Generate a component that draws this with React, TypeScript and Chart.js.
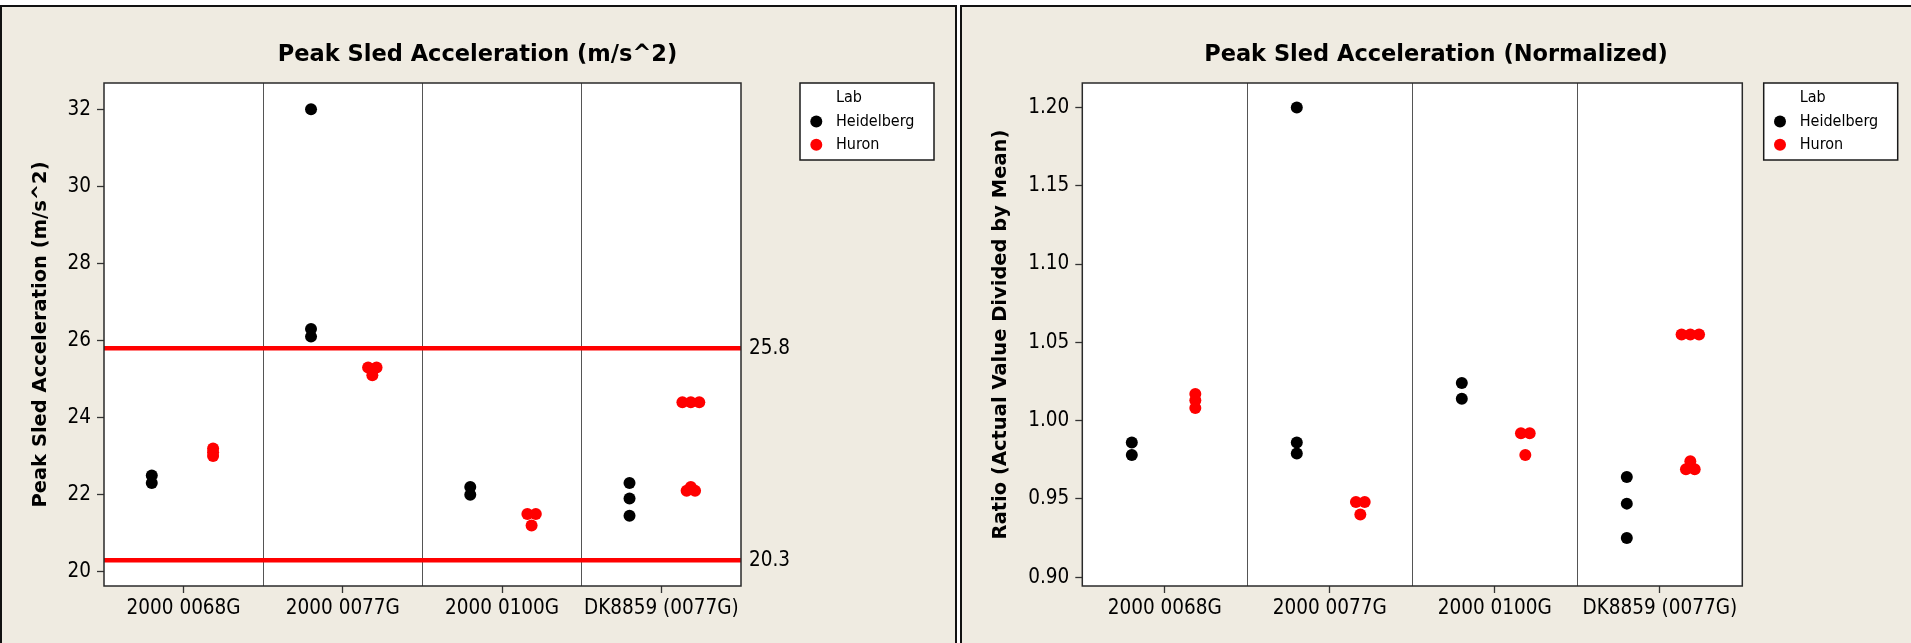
import { useEffect, useRef } from 'react';
import { Chart, registerables } from 'chart.js';

Chart.register(...registerables);

// ---------- data ----------
const categories = ['2000 0068G', '2000 0077G', '2000 0100G', 'DK8859 (0077G)'];
const labs = ['Heidelberg', 'Huron'];
const labColors = ['#000000', '#FF0000'];

// Peak sled acceleration (m/s^2), one list per category
const heidelbergAccel = [[22.5, 22.3], [32.0, 26.3, 26.1], [22.2, 22.0], [22.3, 21.9, 21.45]];
const huronAccel = [[23.2, 23.1, 23.0], [25.3, 25.3, 25.1], [21.5, 21.5, 21.2], [24.4, 24.4, 24.4, 22.2, 22.1, 22.1]];
const accelLimits = [25.8, 20.3];
const accelTicks = [20, 22, 24, 26, 28, 30, 32];

// Normalized (actual value divided by mean)
const heidelbergRatio = [[0.986, 0.978], [1.2, 0.986, 0.979], [1.024, 1.014], [0.964, 0.947, 0.925]];
const huronRatio = [[1.017, 1.013, 1.008], [0.948, 0.948, 0.94], [0.992, 0.992, 0.978], [1.055, 1.055, 1.055, 0.974, 0.969, 0.969]];
const ratioTicks = [0.9, 0.95, 1.0, 1.05, 1.1, 1.15, 1.2];

// ---------- styling ----------
const FONT = '"DejaVu Sans Condensed", "DejaVu Sans", sans-serif';
const BOLD = '"DejaVu Sans", sans-serif';
const BEIGE = '#EFEBE1';
const LAB_OFFSET = [-0.2, 0.185];
const DODGE = 0.053;

const isInt = (v: number) => Math.abs(v - Math.round(v)) < 1e-6;

function toPoints(groups: number[][], lab: number) {
  const pts: { x: number; y: number }[] = [];
  groups.forEach((vals, ci) => {
    vals.forEach((v, i) => {
      const same = vals.map((_, j) => j).filter((j) => vals[j] === v);
      const k = same.indexOf(i);
      const off = (k - (same.length - 1) / 2) * DODGE;
      pts.push({ x: ci + LAB_OFFSET[lab] + off, y: v });
    });
  });
  return pts;
}

const framePlugin = {
  id: 'frame',
  beforeDraw(chart: any) {
    const { ctx, chartArea: a } = chart;
    ctx.save();
    ctx.fillStyle = '#ffffff';
    ctx.fillRect(a.left, a.top, a.right - a.left, a.bottom - a.top);
    ctx.restore();
  },
  afterDraw(chart: any) {
    const { ctx, chartArea: a } = chart;
    ctx.save();
    ctx.strokeStyle = '#2a2a2a';
    ctx.lineWidth = 1.5;
    ctx.strokeRect(a.left, a.top, a.right - a.left, a.bottom - a.top);
    ctx.restore();
  },
};

const labLegendPlugin = {
  id: 'labLegend',
  afterDraw(chart: any, _args: any, opts: any) {
    const { ctx, chartArea: a } = chart;
    const x = a.right + opts.dx;
    const y = a.top;
    const w = 134;
    const h = 77;
    ctx.save();
    ctx.fillStyle = '#ffffff';
    ctx.fillRect(x, y, w, h);
    ctx.strokeStyle = '#1a1a1a';
    ctx.lineWidth = 1.5;
    ctx.strokeRect(x, y, w, h);
    ctx.font = `16px ${FONT}`;
    ctx.textBaseline = 'middle';
    ctx.textAlign = 'left';
    ctx.fillStyle = '#000';
    ctx.fillText('Lab', x + 36, y + 15);
    labs.forEach((name, i) => {
      const cy = y + 38.4 + i * 23.3;
      ctx.beginPath();
      ctx.arc(x + 16.3, cy, 6, 0, Math.PI * 2);
      ctx.fillStyle = labColors[i];
      ctx.fill();
      ctx.fillStyle = '#000';
      ctx.fillText(name, x + 36, cy);
    });
    ctx.restore();
  },
};

type Cfg = {
  heid: number[][];
  huron: number[][];
  limits: number[] | null;
  yMin: number;
  yMax: number;
  yTicks: number[];
  decimals: number;
  yTitle: string;
  title: string;
  yAxisWidth: number;
  yTitleOffset: number;
  rightWidth: number;
  legendDx: number;
};

function makeConfig(c: Cfg): any {
  const xTickValues: number[] = [];
  for (let i = 0; i <= categories.length; i++) {
    xTickValues.push(i - 0.5);
    if (i < categories.length) xTickValues.push(i);
  }
  const datasets: any[] = [
    {
      label: labs[0],
      data: toPoints(c.heid, 0),
      backgroundColor: labColors[0],
      borderWidth: 0,
      pointRadius: 6,
      pointHoverRadius: 6,
      yAxisID: 'y',
      xAxisID: 'x',
    },
    {
      label: labs[1],
      data: toPoints(c.huron, 1),
      backgroundColor: labColors[1],
      borderWidth: 0,
      pointRadius: 6,
      pointHoverRadius: 6,
      yAxisID: 'y',
      xAxisID: 'x',
    },
  ];
  (c.limits || []).forEach((v) => {
    datasets.push({
      label: 'limit ' + v,
      data: [
        { x: -0.5, y: v },
        { x: categories.length - 0.5, y: v },
      ],
      showLine: true,
      borderColor: '#FF0000',
      backgroundColor: '#FF0000',
      borderWidth: 4.5,
      pointRadius: 0,
      pointHoverRadius: 0,
      yAxisID: 'y',
      xAxisID: 'x',
    });
  });

  const tickFont = { family: FONT, size: 20.5 };
  const limits = c.limits || [];
  const scales: any = {
    x: {
      type: 'linear',
      min: -0.5,
      max: categories.length - 0.5,
      afterBuildTicks: (s: any) => {
        s.ticks = xTickValues.map((v) => ({ value: v }));
      },
      afterFit: (s: any) => {
        s.height = 57;
      },
      grid: {
        drawOnChartArea: true,
        drawTicks: true,
        tickLength: 7,
        lineWidth: 1,
        tickWidth: 1.3,
        color: (ctx: any) => {
          const v = ctx.tick ? ctx.tick.value : 0;
          return !isInt(v) && v > -0.5 && v < categories.length - 0.5 ? '#555555' : 'rgba(0,0,0,0)';
        },
        tickColor: (ctx: any) => {
          const v = ctx.tick ? ctx.tick.value : 0.5;
          return isInt(v) ? '#333333' : 'rgba(0,0,0,0)';
        },
      },
      border: { display: false },
      ticks: {
        autoSkip: false,
        maxRotation: 0,
        minRotation: 0,
        padding: 3,
        color: '#000',
        font: tickFont,
        callback: (v: any) => (isInt(Number(v)) ? categories[Math.round(Number(v))] : ''),
      },
    },
    y: {
      type: 'linear',
      position: 'left',
      min: c.yMin,
      max: c.yMax,
      afterBuildTicks: (s: any) => {
        s.ticks = c.yTicks.map((v) => ({ value: v }));
      },
      afterFit: (s: any) => {
        s.width = c.yAxisWidth;
      },
      grid: { drawOnChartArea: false, drawTicks: true, tickLength: 7, tickColor: '#333333', tickWidth: 1.3 },
      border: { display: false },
      ticks: {
        padding: 6,
        color: '#000',
        font: tickFont,
        callback: (v: any) => Number(v).toFixed(c.decimals),
      },
      title: {
        display: true,
        text: c.yTitle,
        color: '#000',
        font: { family: BOLD, size: 19.5, weight: 'bold', lineHeight: 1.2 },
        padding: { top: c.yTitleOffset, bottom: 0 },
      },
    },
    yRight: {
      type: 'linear',
      position: 'right',
      min: c.yMin,
      max: c.yMax,
      afterBuildTicks: (s: any) => {
        s.ticks = limits.map((v) => ({ value: v }));
      },
      afterFit: (s: any) => {
        s.width = c.rightWidth;
      },
      grid: { display: false, drawTicks: false, drawOnChartArea: false },
      border: { display: false },
      ticks: {
        display: limits.length > 0,
        padding: 8,
        color: '#000',
        font: tickFont,
        callback: (v: any) => Number(v).toFixed(1),
      },
    },
  };

  return {
    type: 'scatter',
    data: { datasets },
    options: {
      responsive: false,
      maintainAspectRatio: false,
      animation: false,
      devicePixelRatio: 1,
      events: [],
      layout: { padding: { left: 0, right: 0, top: 0, bottom: 0 } },
      scales,
      plugins: {
        legend: { display: false },
        tooltip: { enabled: false },
        title: {
          display: true,
          text: c.title,
          color: '#000',
          font: { family: BOLD, size: 22.5, weight: 'bold', lineHeight: 1.2 },
          padding: { top: 41.5, bottom: 14.5 },
        },
        labLegend: { dx: c.legendDx },
      },
    },
    plugins: [framePlugin, labLegendPlugin],
  };
}

export default function App() {
  const leftRef = useRef<HTMLCanvasElement | null>(null);
  const rightRef = useRef<HTMLCanvasElement | null>(null);

  useEffect(() => {
    if (!leftRef.current || !rightRef.current) return;
    const left = new Chart(
      leftRef.current,
      makeConfig({
        heid: heidelbergAccel,
        huron: huronAccel,
        limits: accelLimits,
        yMin: 19.63,
        yMax: 32.68,
        yTicks: accelTicks,
        decimals: 0,
        yTitle: 'Peak Sled Acceleration (m/s^2)',
        title: 'Peak Sled Acceleration (m/s^2)',
        yAxisWidth: 104,
        yTitleOffset: 29.3,
        rightWidth: 214,
        legendDx: 59,
      })
    );
    const right = new Chart(
      rightRef.current,
      makeConfig({
        heid: heidelbergRatio,
        huron: huronRatio,
        limits: null,
        yMin: 0.8944,
        yMax: 1.2156,
        yTicks: ratioTicks,
        decimals: 2,
        yTitle: 'Ratio (Actual Value Divided by Mean)',
        title: 'Peak Sled Acceleration (Normalized)',
        yAxisWidth: 121.3,
        yTitleOffset: 27.8,
        rightWidth: 168.7,
        legendDx: 21.4,
      })
    );
    return () => {
      left.destroy();
      right.destroy();
    };
  }, []);

  return (
    <div
      style={{
        position: 'fixed',
        left: 0,
        top: 0,
        width: 1911,
        height: 643,
        background: '#ffffff',
        overflow: 'hidden',
      }}
    >
      <div
        style={{
          position: 'absolute',
          left: 0,
          top: 5,
          width: 957,
          height: 700,
          background: BEIGE,
          borderLeft: '2px solid #111',
          borderTop: '2px solid #111',
          borderRight: '2px solid #111',
          boxSizing: 'border-box',
        }}
      />
      <div
        style={{
          position: 'absolute',
          left: 960,
          top: 5,
          width: 960,
          height: 700,
          background: BEIGE,
          borderLeft: '2px solid #111',
          borderTop: '2px solid #111',
          boxSizing: 'border-box',
        }}
      />
      <canvas
        ref={leftRef}
        width={955}
        height={643}
        style={{ position: 'absolute', left: 0, top: 0, width: 955, height: 643 }}
      />
      <canvas
        ref={rightRef}
        width={950}
        height={643}
        style={{ position: 'absolute', left: 961, top: 0, width: 950, height: 643 }}
      />
    </div>
  );
}
